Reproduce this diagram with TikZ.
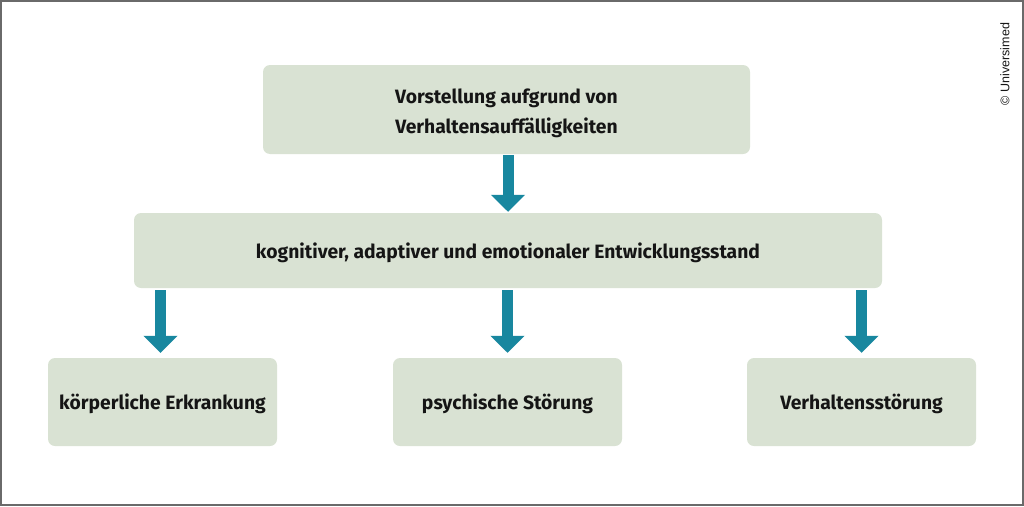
\documentclass[tikz,border=0pt]{standalone}
\usepackage{fontspec}
\setmainfont{Fira Sans}
\newfontfamily\copyfont{Liberation Sans}
\usetikzlibrary{arrows.meta}
\definecolor{boxfill}{HTML}{D9E2D3}
\definecolor{arrteal}{HTML}{18879F}
\definecolor{frame}{HTML}{6A6A6A}
\definecolor{txt}{HTML}{151515}
\tikzset{
  box/.style={fill=boxfill, rounded corners=7pt, inner sep=0pt, align=center,
    text=txt, font=\fontsize{19.3}{30}\selectfont\bfseries},
  onebox/.style={box, text height=20pt},
  arr/.style={draw=arrteal, line width=11pt,
    -{Triangle[width=33pt,length=17pt]}, fill=arrteal},
}
\begin{document}
\begin{tikzpicture}[x=1pt,y=-1pt]
\useasboundingbox (0,0) rectangle (1024,506);
\draw[frame, line width=2pt] (1,1) rectangle (1023,505);
\node[box, text height=52pt, minimum width=487pt, minimum height=89pt] (top) at (506.5,109.5)
  {Vorstellung aufgrund von\\Verhaltensauffälligkeiten};
\node[onebox, minimum width=748pt, minimum height=75pt] (mid) at (508,250.5)
  {kognitiver, adaptiver und emotionaler Entwicklungsstand};
\node[onebox, minimum width=229pt, minimum height=88pt] (b1) at (162.5,402)
  {körperliche Erkrankung};
\node[onebox, minimum width=229pt, minimum height=88pt] (b2) at (507.5,402)
  {psychische Störung};
\node[onebox, minimum width=229pt, minimum height=88pt] (b3) at (861.5,402)
  {Verhaltensstörung};
\node[rotate=90, font=\copyfont\fontsize{12.5}{14}\selectfont, text=txt] (copy) at (1005,64) {© Universimed};
\draw[arr, shorten <=1pt, shorten >=1pt] (top.south -| mid.north) -- (mid.north);
\draw[arr, shorten <=2pt, shorten >=5pt] ([xshift=-2pt]mid.south -| b1.north) -- ([xshift=-2pt]b1.north);
\draw[arr, shorten <=2pt, shorten >=5pt] (mid.south -| b2.north) -- (b2.north);
\draw[arr, shorten <=2pt, shorten >=5pt] (mid.south -| b3.north) -- (b3.north);
\end{tikzpicture}
\end{document}
